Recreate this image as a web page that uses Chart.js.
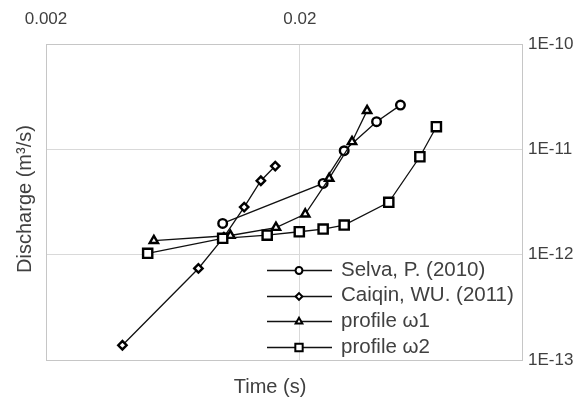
<!DOCTYPE html>
<html><head><meta charset="utf-8">
<script src="https://cdn.jsdelivr.net/npm/chart.js@4.4.1/dist/chart.umd.min.js"></script>
<style>html,body{margin:0;padding:0;background:#fff;}#wrap{width:574px;height:403px;position:relative}</style>
</head><body><div id="wrap"><canvas id="c" width="574" height="403"></canvas></div>
<script>
const seriesNames = ['Selva, P. (2010)', 'Caiqin, WU. (2011)', 'profile ω1', 'profile ω2'];
const selvaTime = [0.00993, 0.0247, 0.0299, 0.0401, 0.0498];
const selvaQ    = [1.98e-12, 4.75e-12, 9.7e-12, 1.83e-11, 2.63e-11];
const caiqinTime = [0.004, 0.00797, 0.01004, 0.01207, 0.01404, 0.016];
const caiqinQ    = [1.38e-13, 7.4e-13, 1.47e-12, 2.83e-12, 5.03e-12, 6.94e-12];
const w1Time = [0.00532, 0.01065, 0.0161, 0.021, 0.0261, 0.0321, 0.0368];
const w1Q    = [1.36e-12, 1.52e-12, 1.81e-12, 2.43e-12, 5.3e-12, 1.18e-11, 2.33e-11];
const w2Time = [0.00503, 0.00993, 0.01487, 0.0199, 0.0247, 0.0299, 0.0448, 0.0594, 0.069];
const w2Q    = [1.03e-12, 1.43e-12, 1.53e-12, 1.65e-12, 1.75e-12, 1.91e-12, 3.14e-12, 8.5e-12, 1.64e-11];
const xTickValues = [0.002, 0.02];
const xTickLabels = ['0.002', '0.02'];
const yTickValues = [1e-13, 1e-12, 1e-11, 1e-10];
const yTickLabels = ['1E-13', '1E-12', '1E-11', '1E-10'];
const xTitle = 'Time (s)';
const yTitle = 'Discharge (m³/s)';

const FONT = '"Liberation Sans", Arial, sans-serif';
const TEXT = '#404040';
const pts = (xs, ys) => xs.map((x, i) => ({x: x, y: ys[i]}));
const styles = [
  {pointStyle: 'circle', radius: 4.3},
  {pointStyle: 'rectRot', radius: 4.2},
  {pointStyle: 'triangle', radius: 4.8},
  {pointStyle: 'rect', radius: 6.5}
];
const allData = [pts(selvaTime, selvaQ), pts(caiqinTime, caiqinQ), pts(w1Time, w1Q), pts(w2Time, w2Q)];
const datasets = allData.map((d, i) => ({
  label: seriesNames[i], data: d, showLine: true, tension: 0,
  borderColor: '#111', borderWidth: 1.3,
  pointStyle: styles[i].pointStyle, pointRadius: styles[i].radius,
  pointBorderColor: '#000', pointBackgroundColor: '#fff', pointBorderWidth: 2.4,
  order: 4 - i
}));

const decor = {
  id: 'decor',
  beforeDatasetsDraw(chart) {
    const {ctx, chartArea: a} = chart;
    ctx.save();
    ctx.strokeStyle = '#c6c6c6'; ctx.lineWidth = 1;
    ctx.strokeRect(Math.round(a.left) + 0.5, Math.round(a.top) + 0.5, Math.round(a.right - a.left), Math.round(a.bottom - a.top));
    ctx.restore();
  },
  afterDraw(chart) {
    const ctx = chart.ctx;
    ctx.save();
    ctx.fillStyle = TEXT;
    ctx.font = '20px ' + FONT;
    ctx.textAlign = 'center'; ctx.textBaseline = 'middle';
    ctx.fillText(xTitle, 270, 387);
    ctx.translate(25, 199); ctx.rotate(-Math.PI / 2);
    ctx.fillText(yTitle, 0, 0);
    ctx.restore();
    // legend
    ctx.save();
    datasets.forEach((ds, i) => {
      const y = 270 + i * 25.7;
      ctx.strokeStyle = '#111'; ctx.lineWidth = 1.3;
      ctx.beginPath(); ctx.moveTo(267, Math.round(y) + 0.5); ctx.lineTo(332, Math.round(y) + 0.5); ctx.stroke();
      ctx.fillStyle = '#fff'; ctx.strokeStyle = '#000'; ctx.lineWidth = 2;
      Chart.helpers.drawPoint(ctx, {pointStyle: ds.pointStyle, radius: ds.pointRadius * 0.8, rotation: 0, borderWidth: 2}, 299, Math.round(y) + 0.5);
      ctx.fillStyle = TEXT; ctx.font = '20.5px ' + FONT; ctx.textAlign = 'left'; ctx.textBaseline = 'middle';
      ctx.fillText(ds.label, 341, y);
    });
    ctx.restore();
  }
};

new Chart(document.getElementById('c'), {
  type: 'scatter',
  data: {datasets: datasets},
  options: {
    responsive: false, animation: false, devicePixelRatio: 1,
    layout: {padding: {left: 46, right: 0, top: 0, bottom: 43}},
    plugins: {legend: {display: false}, tooltip: {enabled: false}},
    scales: {
      x: {
        type: 'logarithmic', position: 'top', min: 0.002, max: 0.15,
        afterBuildTicks: s => { s.ticks = xTickValues.map(v => ({value: v, major: true})); },
        afterFit: s => { s.height = 44; },
        ticks: {autoSkip: false, maxRotation: 0, padding: 14, color: TEXT, font: {family: FONT, size: 17},
          callback: (v, i) => xTickLabels[i]},
        grid: {color: '#d9d9d9', lineWidth: 1, drawTicks: false},
        border: {display: false}
      },
      y: {
        type: 'logarithmic', position: 'right', min: 1e-13, max: 1e-10,
        afterBuildTicks: s => { s.ticks = yTickValues.map(v => ({value: v, major: true})); },
        afterFit: s => { s.width = 52; },
        ticks: {autoSkip: false, padding: 6, color: TEXT, font: {family: FONT, size: 17},
          callback: (v, i) => yTickLabels[i]},
        grid: {color: '#d9d9d9', lineWidth: 1, drawTicks: false},
        border: {display: false}
      }
    }
  },
  plugins: [decor]
});
</script></body></html>
